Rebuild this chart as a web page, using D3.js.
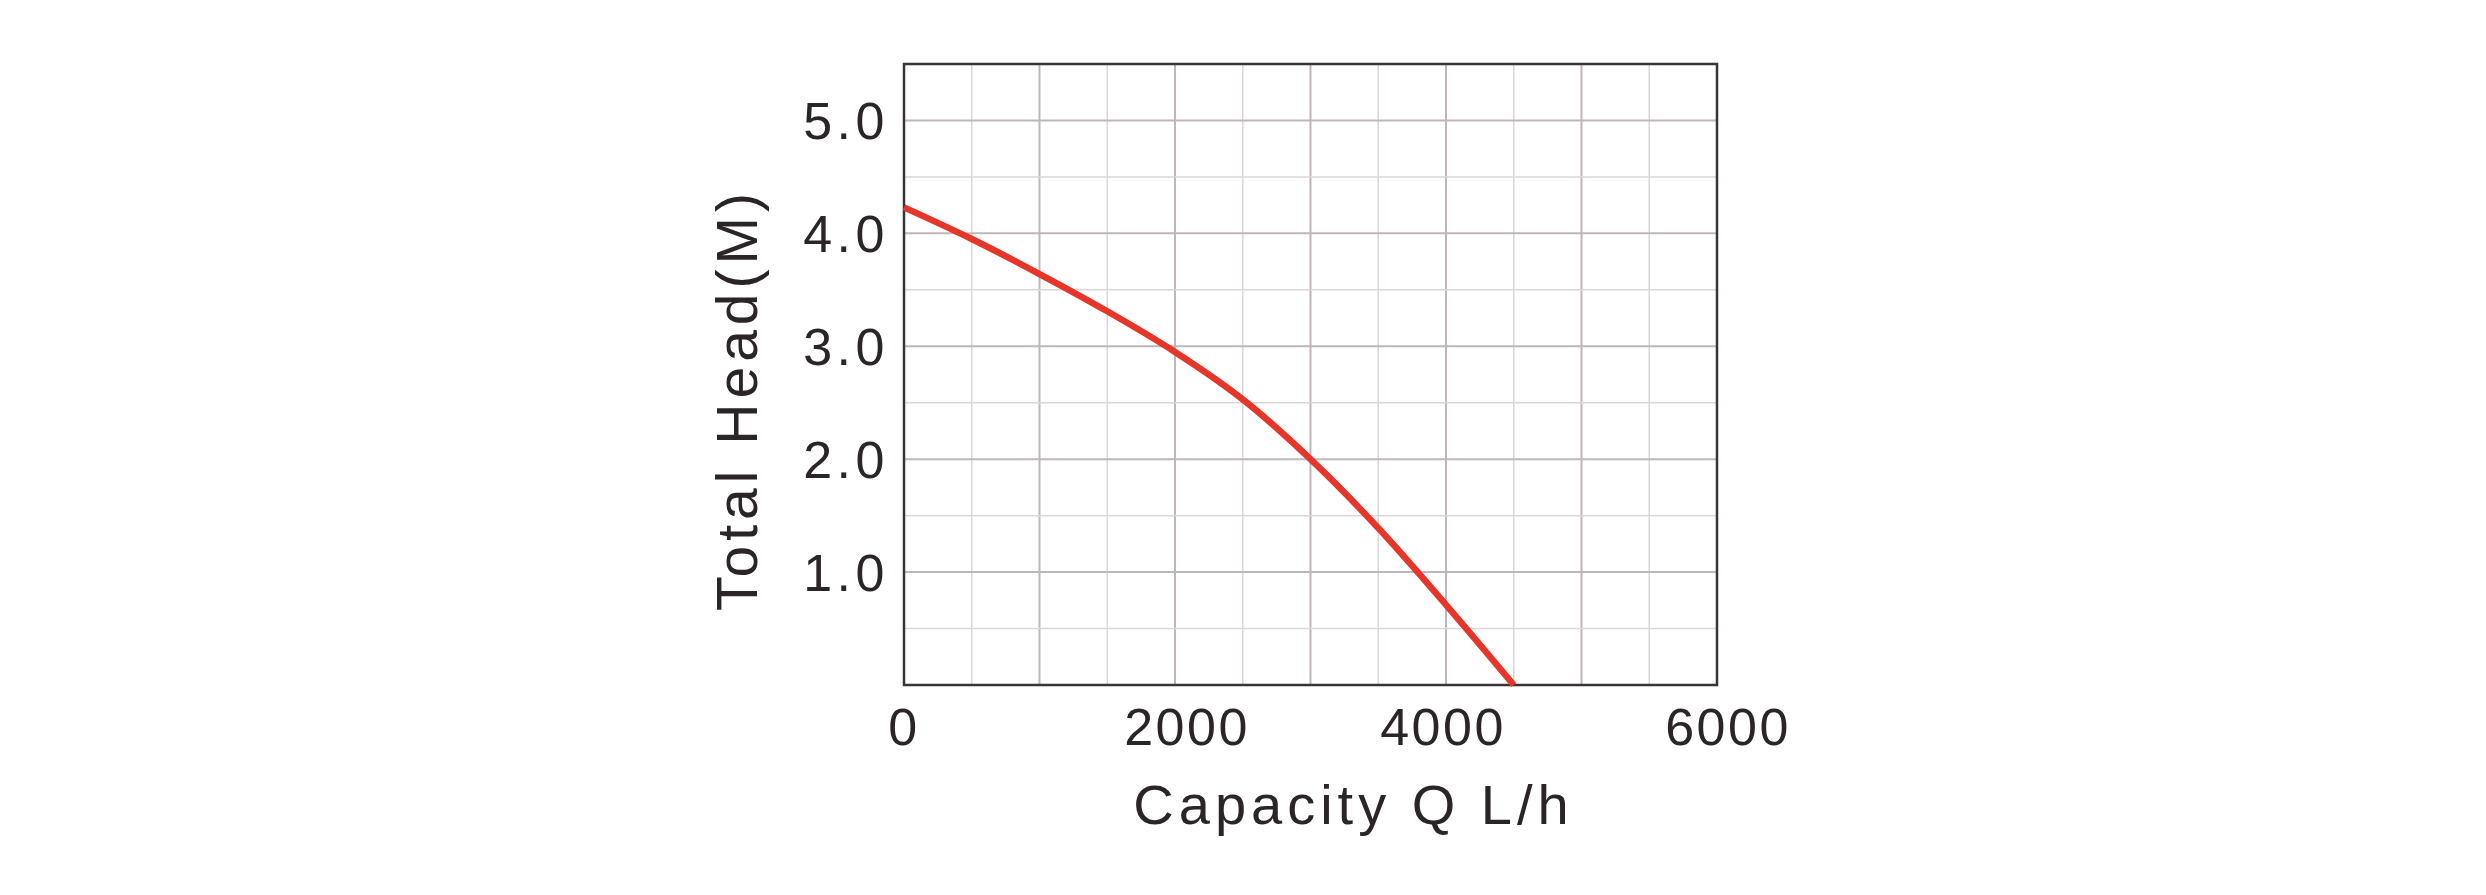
<!DOCTYPE html>
<html>
<head>
<meta charset="utf-8">
<script src="https://cdn.jsdelivr.net/npm/d3@7"></script>
<style>
  body { margin: 0; background: #fff; }
  text { font-family: "Liberation Sans", Arial, sans-serif; fill: #2b2527; }
</style>
</head>
<body>
<div id="chart"></div>
<script>
// pump curve
var capacity = [0, 500, 1000, 1500, 2000, 2500, 3000, 3500, 4000, 4500];
var head = [4.23, 3.95, 3.64, 3.31, 2.95, 2.53, 2.00, 1.39, 0.71, 0];

var xTicks = [0, 2000, 4000, 6000];
var yTicks = [1.0, 2.0, 3.0, 4.0, 5.0];
var xMinor = [500, 1000, 1500, 2000, 2500, 3000, 3500, 4000, 4500, 5000, 5500];
var yMinor = [0.5, 1.0, 1.5, 2.0, 2.5, 3.0, 3.5, 4.0, 4.5, 5.0];

var xTitle = "Capacity Q L/h";
var yTitle = "Total Head(M)";

var W = 2486, H = 895;
var margin = { top: 64, right: 769, bottom: 210, left: 904 };
var width = W - margin.left - margin.right,
    height = H - margin.top - margin.bottom;

var svg = d3.select("#chart").append("svg")
    .attr("width", W)
    .attr("height", H);

var g = svg.append("g")
    .attr("transform", "translate(" + margin.left + "," + margin.top + ")");

var x = d3.scaleLinear().domain([0, 6000]).range([0, width]);
var y = d3.scaleLinear().domain([0, 5.5]).range([height, 0]);

// grid: light half-steps, darker whole steps
g.append("g").selectAll("line")
    .data(xMinor)
    .enter().append("line")
    .attr("x1", function(d) { return x(d); })
    .attr("x2", function(d) { return x(d); })
    .attr("y1", 0).attr("y2", height)
    .style("stroke", function(d) { return d % 1000 === 0 ? "#c1b6b7" : "#ddd5d7"; })
    .style("stroke-width", function(d) { return d % 1000 === 0 ? 2 : 1.5; });

g.append("g").selectAll("line")
    .data(yMinor)
    .enter().append("line")
    .attr("y1", function(d) { return y(d); })
    .attr("y2", function(d) { return y(d); })
    .attr("x1", 0).attr("x2", width)
    .style("stroke", function(d) { return Math.abs(d % 1) < 1e-9 ? "#c1b6b7" : "#ddd5d7"; })
    .style("stroke-width", function(d) { return Math.abs(d % 1) < 1e-9 ? 2 : 1.5; });

// frame
g.append("rect")
    .attr("x", 0).attr("y", 0)
    .attr("width", width).attr("height", height)
    .style("fill", "none")
    .style("stroke", "#3a3436")
    .style("stroke-width", 2.5);

// curve
var line = d3.line()
    .x(function(d, i) { return x(capacity[i]); })
    .y(function(d) { return y(d); })
    .curve(d3.curveCatmullRom);

g.append("path")
    .datum(head)
    .attr("d", line)
    .style("fill", "none")
    .style("stroke", "#e63529")
    .style("stroke-width", 6.5);

// y tick labels
g.append("g").selectAll("text")
    .data(yTicks)
    .enter().append("text")
    .attr("x", -15)
    .attr("y", function(d) { return y(d); })
    .attr("dy", "0.36em")
    .attr("text-anchor", "end")
    .style("font-size", "52px")
    .style("letter-spacing", "4.5px")
    .text(function(d) { return d3.format(".1f")(d); });

// x tick labels (the source nudges some of them off their ticks)
var xShift = [0, 12, -3, 11];
g.append("g").selectAll("text")
    .data(xTicks)
    .enter().append("text")
    .attr("x", function(d, i) { return x(d) + xShift[i]; })
    .attr("y", height + 60)
    .attr("text-anchor", "middle")
    .style("font-size", "52px")
    .style("letter-spacing", "2.5px")
    .text(function(d) { return d; });

// axis titles
g.append("text")
    .attr("x", width / 2 + 43)
    .attr("y", height + 139)
    .attr("text-anchor", "middle")
    .style("font-size", "56px")
    .style("letter-spacing", "5px")
    .text(xTitle);

g.append("text")
    .attr("transform", "translate(" + (-147) + "," + (height / 2 + 25) + ") rotate(-90)")
    .attr("text-anchor", "middle")
    .style("font-size", "57px")
    .style("letter-spacing", "5px")
    .text(yTitle);
</script>
</body>
</html>
